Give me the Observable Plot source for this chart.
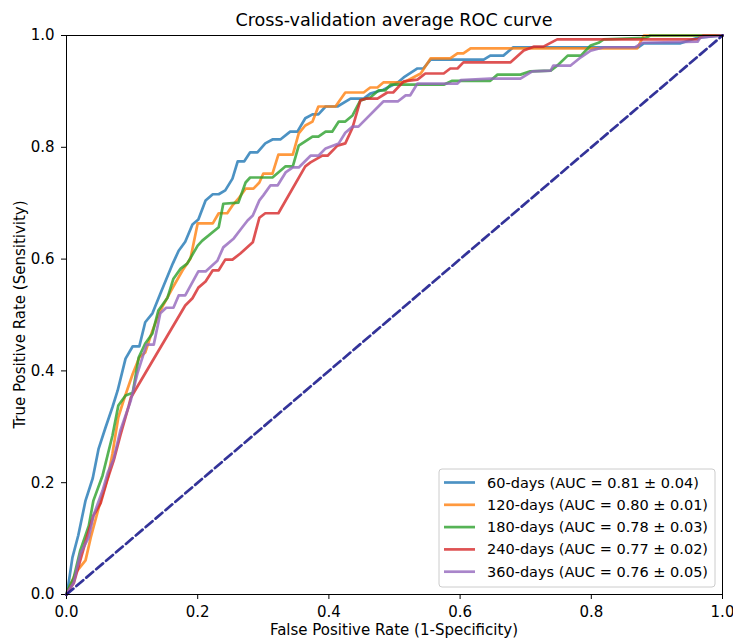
<!DOCTYPE html>
<html>
<head>
<meta charset="utf-8">
<script src="https://cdn.jsdelivr.net/npm/d3@7"></script>
<script src="https://cdn.jsdelivr.net/npm/@observablehq/plot@0.6"></script>
<style>
  html, body { margin: 0; padding: 0; background: white; }
  #chart { width: 733px; height: 639px; }
</style>
</head>
<body>
<div id="chart"></div>
<script>
// ---- data ----
const title = "Cross-validation average ROC curve";
const xLabel = "False Positive Rate (1-Specificity)";
const yLabel = "True Positive Rate (Sensitivity)";
const ticks = [0, 0.2, 0.4, 0.6, 0.8, 1.0];

const seriesNames = [
  "60-days (AUC = 0.81 \u00b1 0.04)",
  "120-days (AUC = 0.80 \u00b1 0.01)",
  "180-days (AUC = 0.78 \u00b1 0.03)",
  "240-days (AUC = 0.77 \u00b1 0.02)",
  "360-days (AUC = 0.76 \u00b1 0.05)"
];
const seriesColors = ["#1f77b4", "#ff7f0e", "#2ca02c", "#d62728", "#9467bd"];

const roc60 = [[0,0],[0.0015,0.007],[0.009,0.066],[0.018,0.106],[0.029,0.168],[0.040,0.208],[0.049,0.261],[0.059,0.297],[0.070,0.335],[0.078,0.365],[0.090,0.422],[0.101,0.444],[0.111,0.444],[0.120,0.487],[0.131,0.503],[0.143,0.538],[0.162,0.592],[0.171,0.615],[0.181,0.631],[0.192,0.662],[0.201,0.671],[0.212,0.705],[0.223,0.716],[0.232,0.716],[0.242,0.723],[0.253,0.744],[0.261,0.775],[0.271,0.775],[0.280,0.791],[0.291,0.791],[0.303,0.807],[0.314,0.814],[0.326,0.814],[0.341,0.828],[0.352,0.828],[0.364,0.852],[0.375,0.859],[0.384,0.859],[0.395,0.873],[0.413,0.873],[0.433,0.887],[0.453,0.887],[0.463,0.896],[0.483,0.903],[0.505,0.916],[0.514,0.925],[0.535,0.941],[0.544,0.941],[0.555,0.957],[0.636,0.957],[0.646,0.964],[0.666,0.964],[0.681,0.979],[0.872,0.979],[0.880,0.986],[0.936,0.986],[0.962,0.996],[1,1]];

const roc120 = [[0,0],[0.0015,0.004],[0.014,0.039],[0.029,0.061],[0.037,0.102],[0.052,0.168],[0.063,0.209],[0.070,0.252],[0.079,0.317],[0.087,0.347],[0.101,0.395],[0.111,0.424],[0.120,0.433],[0.131,0.472],[0.143,0.508],[0.162,0.549],[0.177,0.580],[0.189,0.601],[0.200,0.664],[0.223,0.664],[0.232,0.682],[0.245,0.682],[0.253,0.696],[0.262,0.708],[0.273,0.726],[0.285,0.726],[0.294,0.737],[0.300,0.753],[0.314,0.753],[0.323,0.787],[0.345,0.787],[0.354,0.825],[0.364,0.839],[0.375,0.846],[0.384,0.873],[0.410,0.873],[0.425,0.898],[0.453,0.898],[0.463,0.907],[0.474,0.907],[0.483,0.916],[0.514,0.916],[0.540,0.932],[0.555,0.959],[0.585,0.959],[0.596,0.968],[0.605,0.968],[0.616,0.977],[0.870,0.977],[0.880,1],[1,1]];

const roc180 = [[0,0],[0.0015,0.007],[0.011,0.030],[0.021,0.079],[0.034,0.123],[0.041,0.168],[0.055,0.213],[0.070,0.284],[0.079,0.338],[0.090,0.356],[0.101,0.361],[0.110,0.424],[0.120,0.449],[0.131,0.467],[0.140,0.508],[0.154,0.531],[0.163,0.565],[0.174,0.583],[0.184,0.592],[0.200,0.624],[0.207,0.633],[0.232,0.657],[0.239,0.699],[0.262,0.701],[0.273,0.737],[0.280,0.746],[0.314,0.746],[0.334,0.766],[0.345,0.766],[0.354,0.803],[0.375,0.819],[0.384,0.819],[0.395,0.828],[0.405,0.828],[0.415,0.846],[0.425,0.846],[0.436,0.857],[0.448,0.884],[0.463,0.889],[0.476,0.902],[0.486,0.902],[0.494,0.912],[0.575,0.912],[0.588,0.919],[0.646,0.919],[0.657,0.930],[0.692,0.930],[0.707,0.936],[0.738,0.937],[0.748,0.946],[0.764,0.964],[0.784,0.964],[0.799,0.982],[0.811,0.987],[0.819,0.993],[0.883,0.996],[0.890,1],[1,1]];

const roc240 = [[0,0],[0.0015,0.004],[0.011,0.020],[0.021,0.061],[0.032,0.106],[0.041,0.141],[0.052,0.163],[0.063,0.208],[0.072,0.240],[0.082,0.284],[0.095,0.338],[0.098,0.352],[0.181,0.517],[0.192,0.530],[0.201,0.549],[0.212,0.560],[0.223,0.580],[0.232,0.580],[0.242,0.599],[0.253,0.599],[0.265,0.610],[0.284,0.630],[0.294,0.674],[0.303,0.682],[0.323,0.682],[0.364,0.766],[0.372,0.773],[0.390,0.785],[0.398,0.785],[0.413,0.803],[0.425,0.807],[0.436,0.835],[0.448,0.884],[0.456,0.887],[0.474,0.887],[0.489,0.898],[0.498,0.898],[0.514,0.918],[0.535,0.921],[0.547,0.932],[0.575,0.932],[0.585,0.941],[0.596,0.941],[0.605,0.952],[0.677,0.952],[0.697,0.973],[0.712,0.980],[0.727,0.980],[0.748,0.993],[0.962,0.993],[0.971,1],[1,1]];

const roc360 = [[0,0],[0.0015,0.004],[0.011,0.021],[0.021,0.073],[0.034,0.102],[0.041,0.141],[0.055,0.186],[0.063,0.218],[0.072,0.243],[0.082,0.293],[0.098,0.347],[0.108,0.395],[0.122,0.447],[0.133,0.447],[0.143,0.503],[0.152,0.513],[0.163,0.513],[0.171,0.535],[0.181,0.535],[0.201,0.578],[0.212,0.578],[0.230,0.597],[0.239,0.621],[0.255,0.637],[0.268,0.657],[0.276,0.669],[0.284,0.678],[0.294,0.705],[0.300,0.714],[0.311,0.732],[0.322,0.732],[0.334,0.755],[0.345,0.764],[0.354,0.764],[0.372,0.785],[0.384,0.785],[0.395,0.798],[0.415,0.807],[0.425,0.826],[0.436,0.837],[0.445,0.837],[0.483,0.882],[0.505,0.882],[0.517,0.893],[0.524,0.893],[0.535,0.914],[0.596,0.914],[0.601,0.920],[0.646,0.923],[0.692,0.923],[0.710,0.936],[0.738,0.937],[0.742,0.946],[0.768,0.946],[0.784,0.961],[0.799,0.973],[0.819,0.979],[0.867,0.979],[0.878,0.987],[0.962,0.989],[0.966,0.996],[1,1]];

const chance = [[0,0],[1,1]];
const rocs = [roc60, roc120, roc180, roc240, roc360];

// ---- chart ----
const W = 733, H = 639;
const mL = 66, mR = 11, mT = 35, mB = 45;
const font = "DejaVu Sans, Liberation Sans, sans-serif";
const fs = "15px";

const plot = Plot.plot({
  width: W, height: H,
  marginLeft: mL, marginRight: mR, marginTop: mT, marginBottom: mB,
  style: { fontFamily: font, fontSize: fs, color: "black", background: "white", overflow: "visible" },
  x: { domain: [0, 1] },
  y: { domain: [0, 1] },
  marks: [
    Plot.axisX({ ticks: ticks, tickFormat: d3.format(".1f"), tickSize: 5, tickPadding: 7, label: null, stroke: "black" }),
    Plot.axisY({ ticks: ticks, tickFormat: d3.format(".1f"), tickSize: 5, tickPadding: 7, label: null, stroke: "black" }),
    ...rocs.map((r, i) => Plot.line(r, {
      x: d => d[0], y: d => d[1],
      stroke: seriesColors[i], strokeWidth: 2.7, strokeOpacity: 0.8, curve: "linear"
    })),
    Plot.line(chance, {
      x: d => d[0], y: d => d[1],
      stroke: "#000080", strokeOpacity: 0.8, strokeWidth: 2.7, strokeDasharray: "9,4"
    }),
    Plot.frame({ stroke: "black", strokeWidth: 1 })
  ]
});

const svg = d3.select(plot);
const x0 = mL, x1 = W - mR, y0 = mT, y1 = H - mB;

// title
svg.append("text")
  .attr("x", (x0 + x1) / 2).attr("y", 26)
  .attr("text-anchor", "middle")
  .style("font-family", font).style("font-size", "17.6px").attr("fill", "black")
  .text(title);

// axis labels
svg.append("text")
  .attr("x", (x0 + x1) / 2).attr("y", 635)
  .attr("text-anchor", "middle")
  .style("font-family", font).style("font-size", fs).attr("fill", "black")
  .text(xLabel);
svg.append("text")
  .attr("transform", `translate(25,${(y0 + y1) / 2}) rotate(-90)`)
  .attr("text-anchor", "middle")
  .style("font-family", font).style("font-size", fs).attr("fill", "black")
  .text(yLabel);

// legend
const lgW = 276, lgH = 118;
const lgX = x1 - 7 - lgW, lgY = y1 - 7 - lgH;
const lg = svg.append("g").attr("text-anchor", "start");
lg.append("rect")
  .attr("x", lgX).attr("y", lgY).attr("width", lgW).attr("height", lgH)
  .attr("rx", 3).attr("fill", "white").attr("fill-opacity", 0.8)
  .attr("stroke", "#cccccc").attr("stroke-width", 1);
seriesNames.forEach((name, i) => {
  const ry = lgY + 13.5 + i * 22.3;
  lg.append("line")
    .attr("x1", lgX + 5).attr("x2", lgX + 36).attr("y1", ry).attr("y2", ry)
    .attr("stroke", seriesColors[i]).attr("stroke-opacity", 0.8).attr("stroke-width", 2.7);
  lg.append("text")
    .attr("x", lgX + 48).attr("y", ry).attr("dy", "0.35em")
    .attr("text-anchor", "start")
    .style("font-family", font).style("font-size", "14.5px").attr("fill", "black")
    .text(name);
});

document.getElementById("chart").appendChild(plot);
</script>
</body>
</html>
